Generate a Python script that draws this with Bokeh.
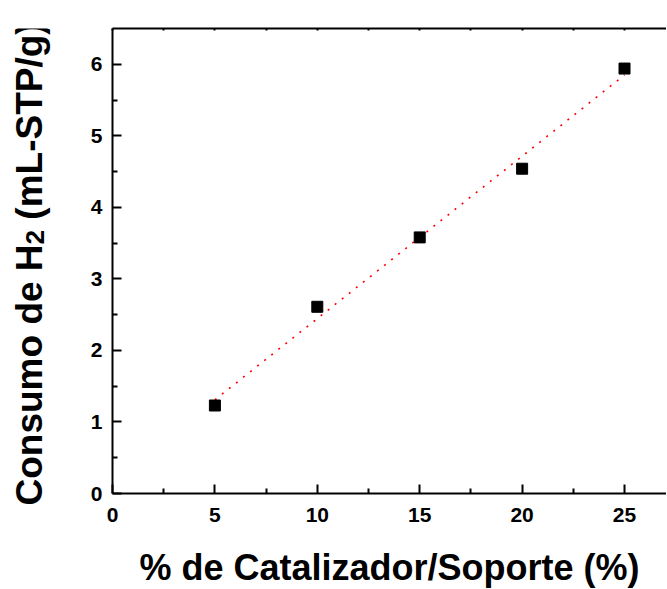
import numpy as np
from bokeh.plotting import figure
from bokeh.layouts import row
from bokeh.models import Range1d, LinearAxis, FixedTicker, ColumnDataSource
from bokeh.core.properties import value
from bokeh.embed import file_html
from bokeh.resources import INLINE

# data
catalyst_pct = [5, 10, 15, 20, 25]
h2_consumption = [1.23, 2.61, 3.58, 4.54, 5.94]
x_major_ticks = [0, 5, 10, 15, 20, 25]
x_minor_ticks = [2.5, 7.5, 12.5, 17.5, 22.5]
y_major_ticks = [0, 1, 2, 3, 4, 5, 6]
y_minor_ticks = [0.5, 1.5, 2.5, 3.5, 4.5, 5.5]
x_title = "% de Catalizador/Soporte (%)"
y_title_parts = ["Consumo de H", "2", "(mL-STP/g)"]

FONT = "Liberation Sans"

TOTAL_H = 588
TITLE_W = 72
FW, FH = 554, 465
XMAX, YMAX = 27.05, 6.5
LEFT, TOP = 112, 28
BOTTOM = TOTAL_H - TOP - FH

p = figure(frame_width=FW, frame_height=FH,
           x_range=Range1d(0, XMAX), y_range=Range1d(0, YMAX),
           output_backend="svg", toolbar_location=None,
           min_border_left=LEFT - TITLE_W, min_border_top=TOP,
           min_border_bottom=BOTTOM, min_border_right=0,
           x_axis_location=None, y_axis_location=None)
p.grid.visible = False
p.outline_line_color = None
p.background_fill_color = "white"
p.border_fill_color = "white"

def style_axis(ax, labels=True):
    ax.axis_line_width = 2
    ax.axis_line_color = "black"
    ax.major_tick_line_width = 2
    ax.minor_tick_line_width = 2
    ax.major_tick_line_color = "black"
    ax.minor_tick_line_color = "black"
    ax.major_tick_out = 0
    ax.minor_tick_out = 0
    ax.major_tick_in = 9
    ax.minor_tick_in = 5
    ax.major_label_text_font = FONT
    ax.major_label_text_font_style = "bold"
    ax.major_label_text_font_size = "21px"
    ax.major_label_text_color = "black"
    ax.axis_label_text_font = FONT
    ax.axis_label_text_font_style = "bold"
    ax.axis_label_text_font_size = "36px"
    ax.axis_label_text_color = "black"
    if not labels:
        ax.major_label_text_font_size = "0px"
        ax.major_label_text_alpha = 0

xaxis = LinearAxis(ticker=FixedTicker(ticks=x_major_ticks, minor_ticks=x_minor_ticks))
style_axis(xaxis)
xaxis.axis_label = x_title
xaxis.major_label_standoff = 14
xaxis.axis_label_standoff = 22
p.add_layout(xaxis, "below")

yaxis = LinearAxis(ticker=FixedTicker(ticks=y_major_ticks, minor_ticks=y_minor_ticks))
style_axis(yaxis)
yaxis.major_label_standoff = 10
p.add_layout(yaxis, "left")

topaxis = LinearAxis(ticker=FixedTicker(ticks=x_major_ticks, minor_ticks=x_minor_ticks))
style_axis(topaxis, labels=False)
topaxis.major_tick_in = 2
topaxis.minor_tick_in = 2
p.add_layout(topaxis, "above")

# linear fit line
coef = np.polyfit(catalyst_pct, h2_consumption, 1)
fx = [catalyst_pct[0], catalyst_pct[-1]]
fy = [coef[0] * v + coef[1] for v in fx]
p.line(fx, fy, line_color="red", line_width=1.6, line_dash="2 7")

p.scatter(catalyst_pct, h2_consumption, marker="square", size=11,
          fill_color="black", line_color="black")

# ---- separate narrow panel holding the rotated y title (with subscript) ----
t = figure(frame_width=TITLE_W, frame_height=TOTAL_H,
           x_range=Range1d(0, TITLE_W), y_range=Range1d(0, TOTAL_H),
           output_backend="svg", toolbar_location=None, min_border=0,
           x_axis_location=None, y_axis_location=None)
t.title = None
t.grid.visible = False
t.outline_line_color = None
t.background_fill_color = "white"
t.border_fill_color = "white"

main_size = 37
sub_size = 26
# Arial/Liberation Sans Bold advance widths (per 1000 em)
adv = {"C": 722, "o": 611, "n": 611, "s": 556, "u": 611, "m": 889, " ": 278,
       "d": 611, "e": 556, "H": 722, "2": 556, "(": 333, "L": 611, "-": 333,
       "S": 667, "T": 611, "P": 667, "/": 278, "g": 611, ")": 333}

def width(txt, size):
    return sum(adv[c] for c in txt) / 1000.0 * size

# empirical correction of the rotated-text anchor placement
base_x = 43 - 14
start_y = 502 - 25
gap_after = [0, width(" ", main_size), 0]
pieces = [(y_title_parts[0], main_size, base_x),
          (y_title_parts[1], sub_size, base_x + 5),
          (y_title_parts[2], main_size, base_x)]
xs, ys, txts, sizes = [], [], [], []
cur_y = start_y
for (txt, size, bx), g in zip(pieces, gap_after):
    xs.append(bx)
    ys.append(TOTAL_H - cur_y)
    txts.append(txt)
    sizes.append(f"{size}px")
    cur_y -= width(txt, size) + g

src = ColumnDataSource(dict(x=xs, y=ys, text=txts, size=sizes))
t.text(x="x", y="y", text="text", source=src, angle=np.pi / 2,
       text_font=value(FONT), text_font_style="bold", text_font_size="size",
       text_color="black", text_align="left", text_baseline="alphabetic")

layout = row(t, p, spacing=0)
open("out.html", "w").write(file_html(layout, INLINE))
